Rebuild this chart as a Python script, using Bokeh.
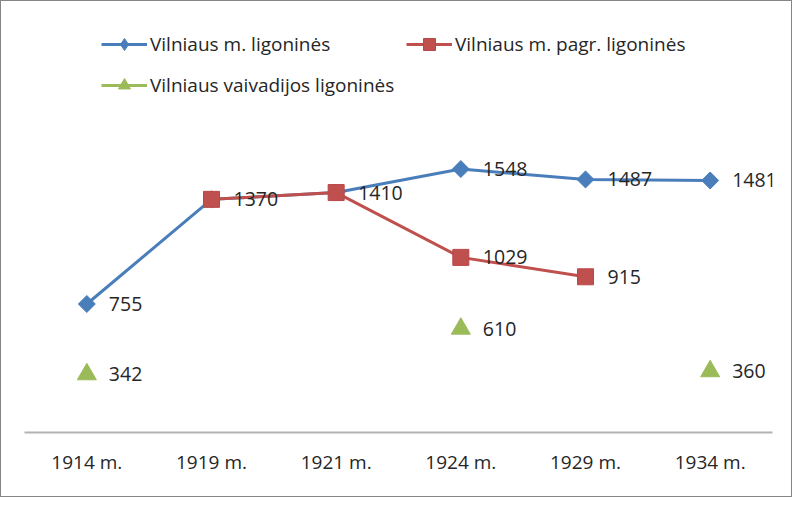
import numpy as np
from bokeh.plotting import figure
from bokeh.models import ColumnDataSource, Range1d, FactorRange, Legend, LegendItem, LabelSet
from bokeh.embed import file_html
from bokeh.resources import INLINE
from bokeh.core.properties import value

# ---- data ----
years = ["1914 m.", "1919 m.", "1921 m.", "1924 m.", "1929 m.", "1934 m."]
miesto = [755, 1370, 1410, 1548, 1487, 1481]
pagr = [None, 1370, 1410, 1029, 915, None]
vaivad = [342, None, None, 610, None, 360]
names = ["Vilniaus m. ligoninės", "Vilniaus m. pagr. ligoninės", "Vilniaus vaivadijos ligoninės"]

BLUE = "#4A7EBB"
RED = "#C0504D"
GREEN = "#9BBB59"
TXT = "#262626"
FONT = "Open Sans"


def src(vals, skip=None):
    xs, vs = [], []
    for i, (y, v) in enumerate(zip(years, vals)):
        if v is None:
            continue
        if skip is not None and skip[i] == v:
            continue
        xs.append(y)
        vs.append(v)
    return ColumnDataSource(dict(x=xs, y=vs, label=[str(v) for v in vs]))


p = figure(width=792, height=497, x_range=FactorRange(factors=years),
           y_range=Range1d(0, 2468), output_backend="svg", toolbar_location=None,
           y_axis_location=None, min_border_left=23, min_border_right=21,
           min_border_top=11, min_border_bottom=66)
p.styles = {"border": "1px solid #868686"}
p.outline_line_color = None
p.xgrid.visible = False
p.ygrid.visible = False

s1, s2, s3 = src(miesto), src(pagr), src(vaivad)

l1 = p.line("x", "y", source=s1, line_color=BLUE, line_width=3)
m1 = p.scatter("x", "y", source=s1, marker="square", angle=np.pi / 4, size=12,
               fill_color=BLUE, line_color=BLUE)
l2 = p.line("x", "y", source=s2, line_color=RED, line_width=3)
m2 = p.scatter("x", "y", source=s2, marker="square", size=16,
               fill_color=RED, line_color="#B8474A")
m3 = p.scatter("x", "y", source=s3, marker="triangle", size=19,
               fill_color=GREEN, line_color=GREEN)

# labels (red labels skipped where identical to blue ones, they overlap)
for s in (s1, src(pagr, skip=miesto), s3):
    p.add_layout(LabelSet(x="x", y="y", text="label", source=s, x_offset=22,
                          text_baseline="middle", text_align="left",
                          text_font=value(FONT), text_font_size="19.5px",
                          text_color=TXT))

ax = p.xaxis[0]
ax.axis_line_color = "#B3B3B3"
ax.axis_line_width = 2
ax.major_tick_line_color = None
ax.minor_tick_line_color = None
ax.major_label_text_font = FONT
ax.major_label_text_font_size = "19px"
ax.major_label_text_color = TXT
ax.major_label_standoff = 10

# legend-only glyph renderers (hidden in the plot)
lg_m1 = p.scatter([years[0]], [0], marker="diamond", fill_color=BLUE,
                  line_color=BLUE, visible=False)
lg_l3 = p.line([years[0]], [0], line_color=GREEN, line_width=3, visible=False)

legend_specs = [
    (names[0], [l1, lg_m1], (77, 373)),
    (names[1], [l2, m2], (382, 373)),
    (names[2], [lg_l3, m3], (77, 332)),
]
for label, rends, loc in legend_specs:
    lg = Legend(items=[LegendItem(label=label, renderers=rends)], location=loc,
                orientation="horizontal", padding=0, margin=0, spacing=0,
                border_line_alpha=0, background_fill_alpha=0,
                inactive_fill_alpha=0,
                glyph_width=46, glyph_height=30, label_height=30,
                label_standoff=3, label_text_font=FONT,
                label_text_font_size="19px", label_text_color=TXT)
    p.add_layout(lg, "center")

open("out.html", "w").write(file_html(p, INLINE))
